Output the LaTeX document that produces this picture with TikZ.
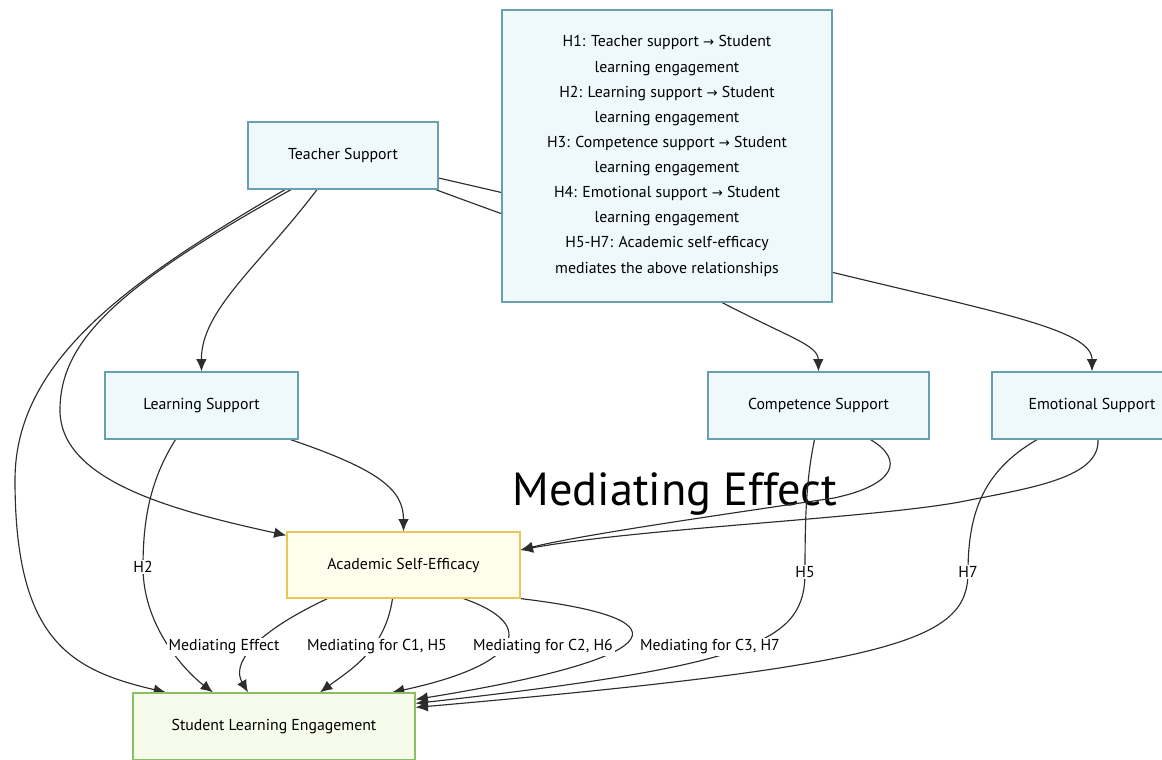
\documentclass[tikz,border=0pt]{standalone}
\usepackage{fontspec}
\setmainfont{PT Sans}
\newfontfamily\arrowfont{DejaVu Sans}
\usetikzlibrary{arrows.meta,calc,backgrounds}
\definecolor{boxfill}{RGB}{239,249,251}
\definecolor{boxline}{RGB}{105,160,175}
\definecolor{asefill}{RGB}{255,253,236}
\definecolor{aseline}{RGB}{232,198,88}
\definecolor{slefill}{RGB}{246,251,236}
\definecolor{sleline}{RGB}{140,190,100}
\definecolor{edgecol}{RGB}{45,45,45}
\newcommand\boxfont{\fontsize{9}{11}\selectfont}
\newcommand\arr{{\arrowfont\fontsize{7.5}{9}\selectfont →}}
\tikzset{
  supbox/.style={draw=boxline,fill=boxfill,line width=0.7pt,minimum height=1.34cm,font=\boxfont},
  lbl/.style={fill=white,inner sep=1pt,font=\boxfont},
  link/.style={->,draw=edgecol,line width=0.65pt},
}
\begin{document}
\begin{tikzpicture}[x=0.02cm,y=-0.02cm,>={Latex[length=7pt,width=6pt]}]
\useasboundingbox (0,0) rectangle (1162,760);
% boxes
\node[supbox,minimum width=3.8cm] (teach) at (343,155.5) {Teacher Support};
\node[supbox,minimum width=6.6cm,minimum height=5.84cm,align=center,
  font=\fontsize{9}{14.3}\selectfont] (hyp) at (667,156)
  {H1: Teacher support \arr{} Student\\ learning engagement\\
   H2: Learning support \arr{} Student\\ learning engagement\\
   H3: Competence support \arr{} Student\\ learning engagement\\
   H4: Emotional support \arr{} Student\\ learning engagement\\
   H5-H7: Academic self-efficacy\\ mediates the above relationships};
\node[supbox,minimum width=3.86cm] (learn) at (201.5,405.5) {Learning Support};
\node[supbox,minimum width=4.42cm] (comp) at (818.5,405.5) {Competence Support};
\node[supbox,minimum width=4.0cm] (emo) at (1092,405.5) {Emotional Support};
\node[supbox,draw=aseline,fill=asefill,minimum width=4.66cm,minimum height=1.32cm] (ase) at (403.5,565) {Academic Self-Efficacy};
\node[supbox,draw=sleline,fill=slefill,minimum width=5.64cm] (sle) at (274,726.5) {Student Learning Engagement};
\begin{scope}[on background layer]
\node[anchor=base,font=\fontsize{26.4}{30}\selectfont] (title) at (675,505) {Mediating Effect};
% from teacher support
\draw[link] ($(teach.south)+(-58,0)$) .. controls (130,280) and (15,360) .. (15,480)
  .. controls (15,640) and (70,670) .. ($(sle.north)+(-108,0)$);
\draw[link] ($(teach.south)+(-52,0)$) .. controls (120,285) and (60,340) .. (60,410)
  .. controls (60,480) and (170,510) .. ($(ase.north west)+(0,4)$);
\draw[link] ($(teach.south)+(-26,0)$) .. controls (260,265) and (201,310) .. (learn.north);
\draw[link] ($(teach.south east)+(-3,0)$) .. controls (550,232) and (650,265) .. (721,302)
  .. controls (790,338) and (818,345) .. (comp.north);
\draw[link] ($(teach.east)+(0,22.5)$) .. controls (600,215) and (700,240) .. (831,272)
  .. controls (1000,313) and (1092,330) .. (emo.north);
% direct paths
\draw[link] ($(learn.south)+(-26,0)$) .. controls (150,480) and (143,520) .. (143,567)
  node[lbl] (h2) {H2} .. controls (143,630) and (190,675) .. ($(sle.north)+(-61,0)$);
\draw[link] ($(comp.south)+(-4,0)$) .. controls (806,480) and (805,520) .. (805,572)
  node[lbl] (h5) {H5} .. controls (805,640) and (760,665) .. ($(sle.north east)+(0,11)$);
\draw[link] ($(emo.south)+(-55,0)$) .. controls (985,470) and (968,510) .. (968,572)
  node[lbl] (h7) {H7} .. controls (968,640) and (900,665) .. ($(sle.north east)+(0,15)$);
% into self-efficacy
\draw[link] ($(learn.south east)+(-8,0)$) .. controls (380,470) and (403.5,490) .. (ase.north);
\draw[link] ($(comp.south)+(52,0)$) .. controls (905,460) and (895,485) .. (834,498)
  .. controls (720,515) and (580,535) .. ($(ase.east)+(0,-15)$);
\draw[link] ($(emo.south)+(6,0)$) .. controls (1100,478) and (1030,488) .. (965,501)
  .. controls (880,518) and (640,528) .. ($(ase.east)+(0,-15)$);
% mediation
\draw[link] ($(ase.south)+(-76,0)$) .. controls (250,635) and (232,665) .. ($(sle.north)+(-26,0)$);
\draw[link] ($(ase.south)+(-11,0)$) .. controls (385,650) and (350,670) .. ($(sle.north)+(46,0)$);
\draw[link] ($(ase.south)+(60,0)$) .. controls (540,625) and (520,665) .. ($(sle.north)+(118,0)$);
\draw[link] (ase.south east) .. controls (700,620) and (660,660) .. ($(sle.north east)+(0,7)$);
\node[lbl] (m0) at (224,647) {Mediating Effect};
\node[lbl] (m1) at (377,647) {Mediating for C1, H5};
\node[lbl] (m2) at (543,647) {Mediating for C2, H6};
\node[lbl] (m3) at (710,647) {Mediating for C3, H7};
\end{scope}
\end{tikzpicture}
\end{document}
